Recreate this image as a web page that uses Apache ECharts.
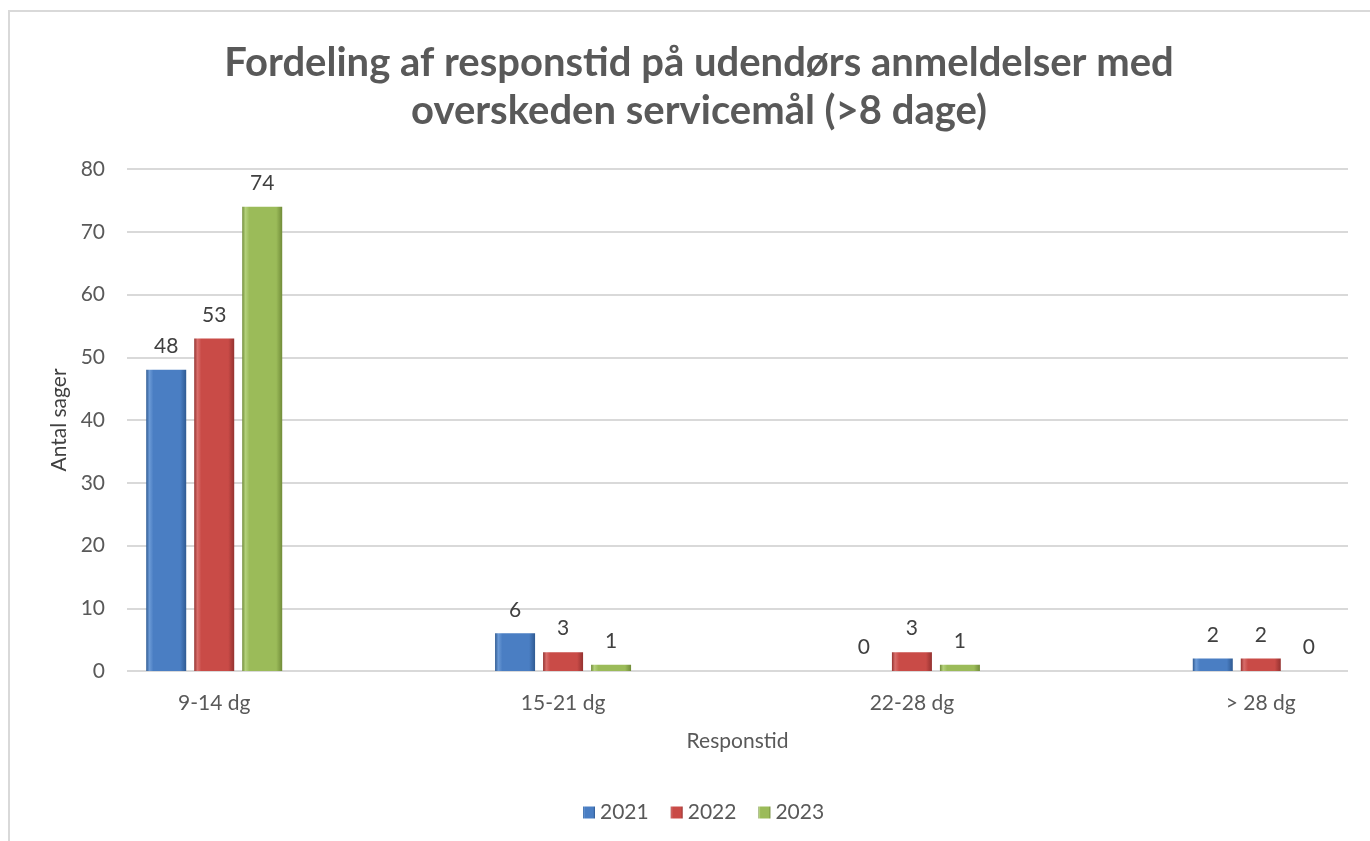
<!DOCTYPE html>
<html>
<head>
<meta charset="utf-8">
<script src="https://cdn.jsdelivr.net/npm/echarts@6/dist/echarts.min.js"></script>
<style>
html,body{margin:0;padding:0;background:#fff;}
#c{width:1370px;height:841px;}
</style>
</head>
<body>
<div id="c"></div>
<script>
const categories = ['9-14 dg', '15-21 dg', '22-28 dg', '> 28 dg'];
const years = ['2021', '2022', '2023'];
const v2021 = [48, 6, 0, 2];
const v2022 = [53, 3, 3, 2];
const v2023 = [74, 1, 1, 0];
const yTicks = [0, 10, 20, 30, 40, 50, 60, 70, 80];

const FONT = 'Lato, "Open Sans", sans-serif';
const TXT = '#595959';

function grad(edge, mid, light) {
  return new echarts.graphic.LinearGradient(0, 0, 1, 0, [
    {offset: 0, color: edge},
    {offset: 0.08, color: light},
    {offset: 0.18, color: mid},
    {offset: 0.85, color: mid},
    {offset: 1, color: edge}
  ]);
}
const styles = [
  {c: grad('#2f5a92', '#4a7ec3', '#6b9ad6')},
  {c: grad('#943230', '#c94b47', '#d86d6a')},
  {c: grad('#718c39', '#9bbb59', '#b4d17b')}
];
const vals = [v2021, v2022, v2023];

const chart = echarts.init(document.getElementById('c'), null, {renderer: 'canvas'});
const plotTop = 169, plotBottom = 841 - 671;
chart.setOption({
  backgroundColor: '#fff',
  animation: false,
  title: {
    text: 'Fordeling af responstid på udendørs anmeldelser med\noverskeden servicemål (>8 dage)',
    left: 694, top: 34, textAlign: 'center',
    textStyle: {fontFamily: FONT, fontWeight: 'bold', fontSize: 40, color: TXT, lineHeight: 48}
  },
  graphic: [{
    type: 'rect', shape: {x: 9, y: 11, width: 1420, height: 900},
    style: {fill: 'none', stroke: '#d9d9d9', lineWidth: 2}, silent: true, z: -1
  }],
  legend: {
    data: years, left: 578, top: 797,
    icon: 'rect', itemWidth: 12, itemHeight: 12, itemGap: 22,
    textStyle: {fontFamily: FONT, fontSize: 21, color: TXT}
  },
  grid: {left: 127, right: 22, top: plotTop, bottom: plotBottom, containLabel: false},
  xAxis: {
    type: 'value', min: -0.25, max: 3.25,
    axisLine: {show: false}, axisTick: {show: false}, splitLine: {show: false},
    axisLabel: {
      customValues: categories.map((c, j) => j),
      formatter: v => categories[Math.round(v)] || '',
      fontFamily: FONT, fontSize: 21, color: TXT, margin: 22
    },
    name: 'Responstid', nameLocation: 'middle', nameGap: 60,
    nameTextStyle: {fontFamily: FONT, fontSize: 21, color: TXT}
  },
  yAxis: {
    type: 'value', min: 0, max: 80, interval: 10,
    axisLine: {show: false}, axisTick: {show: false},
    axisLabel: {fontFamily: FONT, fontSize: 21, color: TXT, margin: 22,
      formatter: v => yTicks.includes(v) ? String(v) : ''},
    splitLine: {show: true, lineStyle: {color: '#d9d9d9', width: 2}},
    name: 'Antal sager', nameLocation: 'middle', nameGap: 56, nameRotate: 90,
    nameTextStyle: {fontFamily: FONT, fontSize: 21, color: '#404040'}
  },
  series: years.map((y, i) => ({
    name: y, type: 'bar',
    data: categories.map((c, j) => [j, vals[i][j]]),
    barWidth: 40, barGap: '20%',
    itemStyle: {color: styles[i].c},
    label: {show: true, position: 'top', distance: 13, fontFamily: FONT, fontSize: 21, color: '#404040',
      formatter: p => String(p.value[1])}
  }))
});
</script>
</body>
</html>
